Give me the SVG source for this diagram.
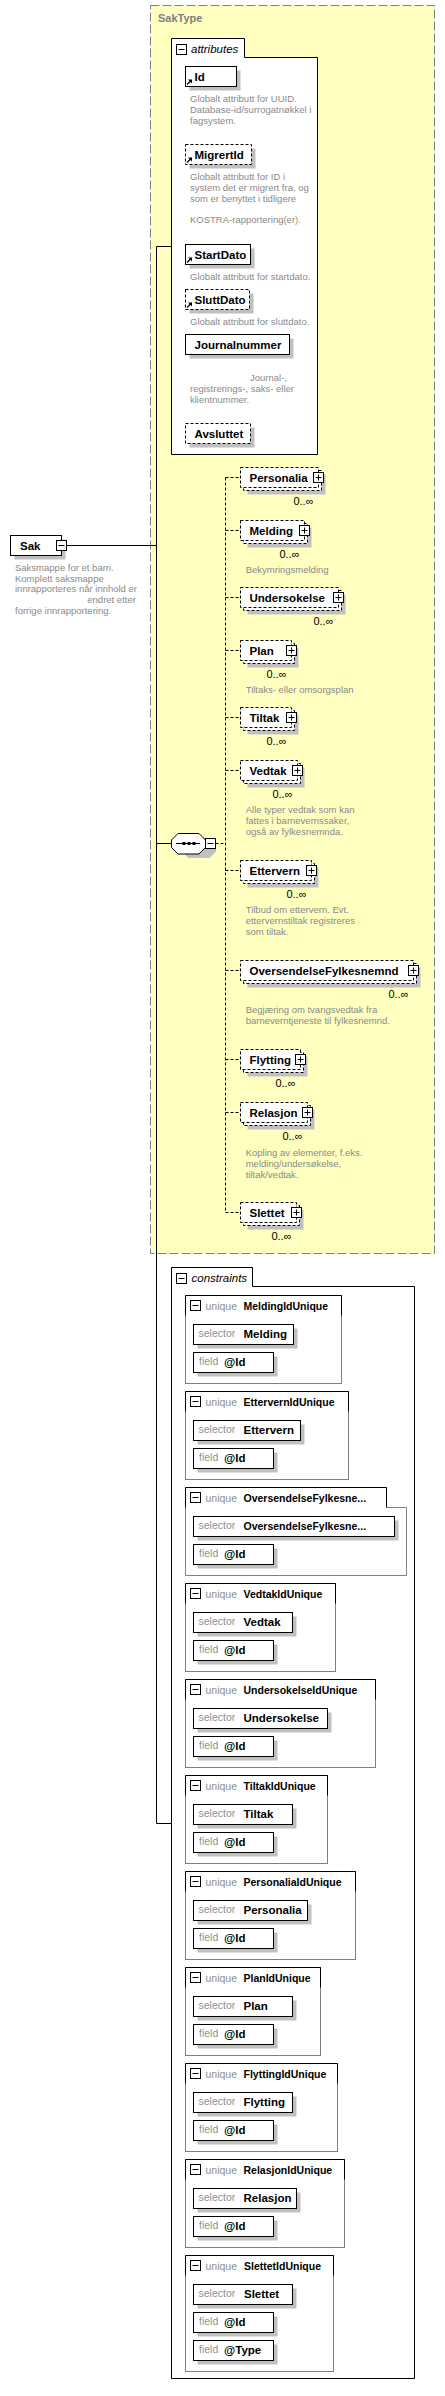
<svg xmlns="http://www.w3.org/2000/svg" xmlns:xlink="http://www.w3.org/1999/xlink" width="445" height="2396" viewBox="0 0 445 2396">
<style>
.bx{fill:#fff;stroke:#000;stroke-width:1}
.dbx{fill:#fff;stroke:#000;stroke-width:1;stroke-dasharray:3,2}
.sh{fill:#c0c0c0;stroke:none}
.nm{font-family:"Liberation Sans",Arial,sans-serif;font-weight:bold;font-size:11.5px;fill:#000}
.ds{font-family:"Liberation Sans",Arial,sans-serif;font-size:9.5px;fill:#8a8a8a}
.oc{font-family:"Liberation Sans",Arial,sans-serif;font-size:11px;fill:#000}
.gl{font-family:"Liberation Sans",Arial,sans-serif;font-size:10.5px;fill:#909090}
.un{font-family:"Liberation Sans",Arial,sans-serif;font-weight:bold;font-size:10.5px;fill:#000}
.it{font-family:"Liberation Sans",Arial,sans-serif;font-style:italic;font-size:11.5px;fill:#000}
.ln{fill:none;stroke:#000;stroke-width:1}
.dl{fill:none;stroke:#000;stroke-width:1;stroke-dasharray:3,2}
.ub{fill:#fff;stroke:#808080;stroke-width:1}
</style>
<defs>
<g id="plusIcon"><rect x="0" y="0" width="10" height="10" fill="#fff" stroke="#000"/><path d="M2,5H8M5,2V8" stroke="#000" fill="none"/></g>
<g id="minusIcon"><rect x="0" y="0" width="10" height="10" fill="#fff" stroke="#000"/><path d="M2,5H8" stroke="#000" fill="none"/></g>
<g id="refIcon"><path d="M0.5,5.5L4,2" stroke="#000" stroke-width="1.3" fill="none"/><polygon points="5.5,0.5 5.5,4.5 1.5,0.5" fill="#000"/></g>
</defs>

<g id="SakType">
<rect x="150.5" y="5.5" width="284" height="1248" fill="#ffffc0" stroke="#808080" stroke-dasharray="9,3"/>
<text x="158" y="22" font-family="Liberation Sans, Arial, sans-serif" font-weight="bold" font-size="11px" fill="#808080">SakType</text>
</g>

<g id="connectors">
<path class="ln" d="M66.5,545.5H156.5M171.5,246.5H156.5V1823.5H171.5M156.5,843.5H171.5"/>
<path class="dl" d="M215.5,843.5H225.5M225.5,477.5V1212.5"/>
<path class="dl" d="M225.5,477.5H240.5M225.5,530.5H240.5M225.5,597.5H240.5M225.5,650.5H240.5M225.5,717.5H240.5M225.5,770.5H240.5M225.5,870.5H240.5M225.5,970.5H240.5M225.5,1059.5H240.5M225.5,1112.5H240.5M225.5,1212.5H240.5"/>
</g>

<g id="attributes">
<path class="bx" d="M171.5,38.5H244.5V57.5H317.5V454.5H171.5Z"/>
<use xlink:href="#minusIcon" x="176.5" y="44.5"/>
<text class="it" x="191" y="52.5">attributes</text>
</g>

<g id="attr-Id">
<rect class="sh" x="189.5" y="70.5" width="51" height="20"/>
<rect class="bx" x="185.5" y="66.5" width="51" height="20"/>
<use xlink:href="#refIcon" x="186.5" y="79"/>
<text class="nm" x="194.5" y="80.5">Id</text>
<text class="ds" x="190" y="102">Globalt attributt for UUID.</text>
<text class="ds" x="190" y="112.8">Database-id/surrogatnøkkel i</text>
<text class="ds" x="190" y="123.6">fagsystem.</text>
</g>

<g id="attr-MigrertId">
<rect class="sh" x="189.5" y="148.5" width="66" height="20"/>
<rect class="dbx" x="185.5" y="144.5" width="66" height="20"/>
<use xlink:href="#refIcon" x="186.5" y="157"/>
<text class="nm" x="194.5" y="158.5">MigrertId</text>
<text class="ds" x="190" y="180">Globalt attributt for ID i</text>
<text class="ds" x="190" y="190.8">system det er migrert fra, og</text>
<text class="ds" x="190" y="201.6">som er benyttet i tidligere</text>
<text class="ds" x="190" y="223.2">KOSTRA-rapportering(er).</text>
</g>

<g id="attr-StartDato">
<rect class="sh" x="189.5" y="248.5" width="65" height="20"/>
<rect class="bx" x="185.5" y="244.5" width="65" height="20"/>
<use xlink:href="#refIcon" x="186.5" y="257"/>
<text class="nm" x="194.5" y="258.5">StartDato</text>
<text class="ds" x="190" y="280">Globalt attributt for startdato.</text>
</g>

<g id="attr-SluttDato">
<rect class="sh" x="189.5" y="293.5" width="64" height="20"/>
<rect class="dbx" x="185.5" y="289.5" width="64" height="20"/>
<use xlink:href="#refIcon" x="186.5" y="302"/>
<text class="nm" x="194.5" y="303.5">SluttDato</text>
<text class="ds" x="190" y="325">Globalt attributt for sluttdato.</text>
</g>

<g id="attr-Journalnummer">
<rect class="sh" x="189.5" y="338.5" width="104" height="20"/>
<rect class="bx" x="185.5" y="334.5" width="104" height="20"/>
<text class="nm" x="194.5" y="348.5">Journalnummer</text>
<text class="ds" x="250" y="380.7">Journal-,</text>
<text class="ds" x="190" y="391.6">registrerings-, saks- eller</text>
<text class="ds" x="190" y="402.5">klientnummer.</text>
</g>

<g id="attr-Avsluttet">
<rect class="sh" x="189.5" y="427.5" width="65" height="20"/>
<rect class="dbx" x="185.5" y="423.5" width="65" height="20"/>
<text class="nm" x="194.5" y="437.5">Avsluttet</text>
</g>

<g id="Sak">
<rect class="sh" x="14.5" y="539.5" width="51" height="20"/>
<rect class="bx" x="10.5" y="535.5" width="51" height="20"/>
<text class="nm" x="20" y="549.5">Sak</text>
<use xlink:href="#minusIcon" x="56.5" y="540.5"/>
<text class="ds" x="15" y="570.7">Saksmappe for et barn.</text>
<text class="ds" x="15" y="581.5">Komplett saksmappe</text>
<text class="ds" x="15" y="592.3">innrapporteres når innhold er</text>
<text class="ds" x="87.3" y="603.1">endret etter</text>
<text class="ds" x="15" y="613.9">forrige innrapportering.</text>
</g>

<g id="sequence">
<polygon class="sh" points="182,844.5 188.5,838 209.5,838 216,844.5 216,851.5 209.5,858 188.5,858 182,851.5"/>
<polygon class="bx" points="171.5,840 178,833.5 199,833.5 205.5,840 205.5,847.5 199,854 178,854 171.5,847.5"/>
<path d="M176,843.5H200" stroke="#000" fill="none"/>
<rect x="182.5" y="842" width="3" height="3" fill="#000"/>
<rect x="187.5" y="842" width="3" height="3" fill="#000"/>
<rect x="192.5" y="842" width="3" height="3" fill="#000"/>
<use xlink:href="#minusIcon" x="205.5" y="838.5"/>
</g>

<g id="el-Personalia">
<rect class="sh" x="247.5" y="474.5" width="78" height="20"/>
<rect class="dbx" x="243.5" y="470.5" width="78" height="20"/>
<rect class="dbx" x="240.5" y="467.5" width="78" height="20"/>
<text class="nm" x="249.5" y="481.5">Personalia</text>
<use xlink:href="#plusIcon" x="313.5" y="472.5"/>
<text class="oc" x="313.5" y="504.5" text-anchor="end">0..∞</text>
</g>

<g id="el-Melding">
<rect class="sh" x="247.5" y="527.5" width="64" height="20"/>
<rect class="dbx" x="243.5" y="523.5" width="64" height="20"/>
<rect class="dbx" x="240.5" y="520.5" width="64" height="20"/>
<text class="nm" x="249.5" y="534.5">Melding</text>
<use xlink:href="#plusIcon" x="299.5" y="525.5"/>
<text class="oc" x="299.5" y="557.5" text-anchor="end">0..∞</text>
<text class="ds" x="245.7" y="573">Bekymringsmelding</text>
</g>

<g id="el-Undersokelse">
<rect class="sh" x="247.5" y="594.5" width="98" height="20"/>
<rect class="dbx" x="243.5" y="590.5" width="98" height="20"/>
<rect class="dbx" x="240.5" y="587.5" width="98" height="20"/>
<text class="nm" x="249.5" y="601.5">Undersokelse</text>
<use xlink:href="#plusIcon" x="333.5" y="592.5"/>
<text class="oc" x="333.5" y="624.5" text-anchor="end">0..∞</text>
</g>

<g id="el-Plan">
<rect class="sh" x="247.5" y="647.5" width="51" height="20"/>
<rect class="dbx" x="243.5" y="643.5" width="51" height="20"/>
<rect class="dbx" x="240.5" y="640.5" width="51" height="20"/>
<text class="nm" x="249.5" y="654.5">Plan</text>
<use xlink:href="#plusIcon" x="286.5" y="645.5"/>
<text class="oc" x="286.5" y="677.5" text-anchor="end">0..∞</text>
<text class="ds" x="245.7" y="693">Tiltaks- eller omsorgsplan</text>
</g>

<g id="el-Tiltak">
<rect class="sh" x="247.5" y="714.5" width="51" height="20"/>
<rect class="dbx" x="243.5" y="710.5" width="51" height="20"/>
<rect class="dbx" x="240.5" y="707.5" width="51" height="20"/>
<text class="nm" x="249.5" y="721.5">Tiltak</text>
<use xlink:href="#plusIcon" x="286.5" y="712.5"/>
<text class="oc" x="286.5" y="744.5" text-anchor="end">0..∞</text>
</g>

<g id="el-Vedtak">
<rect class="sh" x="247.5" y="767.5" width="57" height="20"/>
<rect class="dbx" x="243.5" y="763.5" width="57" height="20"/>
<rect class="dbx" x="240.5" y="760.5" width="57" height="20"/>
<text class="nm" x="249.5" y="774.5">Vedtak</text>
<use xlink:href="#plusIcon" x="292.5" y="765.5"/>
<text class="oc" x="292.5" y="797.5" text-anchor="end">0..∞</text>
<text class="ds" x="245.7" y="813">Alle typer vedtak som kan</text>
<text class="ds" x="245.7" y="824">fattes i barnevernssaker,</text>
<text class="ds" x="245.7" y="835">også av fylkesnemnda.</text>
</g>

<g id="el-Ettervern">
<rect class="sh" x="247.5" y="867.5" width="71" height="20"/>
<rect class="dbx" x="243.5" y="863.5" width="71" height="20"/>
<rect class="dbx" x="240.5" y="860.5" width="71" height="20"/>
<text class="nm" x="249.5" y="874.5">Ettervern</text>
<use xlink:href="#plusIcon" x="306.5" y="865.5"/>
<text class="oc" x="306.5" y="897.5" text-anchor="end">0..∞</text>
<text class="ds" x="245.7" y="913">Tilbud om ettervern. Evt.</text>
<text class="ds" x="245.7" y="924">ettervernstiltak registreres</text>
<text class="ds" x="245.7" y="935">som tiltak.</text>
</g>

<g id="el-OversendelseFylkesnemnd">
<rect class="sh" x="247.5" y="967.5" width="173" height="20"/>
<rect class="dbx" x="243.5" y="963.5" width="173" height="20"/>
<rect class="dbx" x="240.5" y="960.5" width="173" height="20"/>
<text class="nm" x="249.5" y="974.5">OversendelseFylkesnemnd</text>
<use xlink:href="#plusIcon" x="408.5" y="965.5"/>
<text class="oc" x="408.5" y="997.5" text-anchor="end">0..∞</text>
<text class="ds" x="245.7" y="1013">Begjæring om tvangsvedtak fra</text>
<text class="ds" x="245.7" y="1024">barneverntjeneste til fylkesnemnd.</text>
</g>

<g id="el-Flytting">
<rect class="sh" x="247.5" y="1056.5" width="60" height="20"/>
<rect class="dbx" x="243.5" y="1052.5" width="60" height="20"/>
<rect class="dbx" x="240.5" y="1049.5" width="60" height="20"/>
<text class="nm" x="249.5" y="1063.5">Flytting</text>
<use xlink:href="#plusIcon" x="295.5" y="1054.5"/>
<text class="oc" x="295.5" y="1086.5" text-anchor="end">0..∞</text>
</g>

<g id="el-Relasjon">
<rect class="sh" x="247.5" y="1109.5" width="67" height="20"/>
<rect class="dbx" x="243.5" y="1105.5" width="67" height="20"/>
<rect class="dbx" x="240.5" y="1102.5" width="67" height="20"/>
<text class="nm" x="249.5" y="1116.5">Relasjon</text>
<use xlink:href="#plusIcon" x="302.5" y="1107.5"/>
<text class="oc" x="302.5" y="1139.5" text-anchor="end">0..∞</text>
<text class="ds" x="245.7" y="1155.5">Kopling av elementer, f.eks.</text>
<text class="ds" x="245.7" y="1166.5">melding/undersøkelse,</text>
<text class="ds" x="245.7" y="1177.5">tiltak/vedtak.</text>
</g>

<g id="el-Slettet">
<rect class="sh" x="247.5" y="1209.5" width="56" height="20"/>
<rect class="dbx" x="243.5" y="1205.5" width="56" height="20"/>
<rect class="dbx" x="240.5" y="1202.5" width="56" height="20"/>
<text class="nm" x="249.5" y="1216.5">Slettet</text>
<use xlink:href="#plusIcon" x="291.5" y="1207.5"/>
<text class="oc" x="291.5" y="1239.5" text-anchor="end">0..∞</text>
</g>

<g id="constraints">
<path class="bx" d="M171.5,1267.5H252.5V1286.5H414.5V2378.5H171.5Z"/>
<use xlink:href="#minusIcon" x="176.5" y="1273.5"/>
<text class="it" x="191.5" y="1281.5">constraints</text>
</g>

<g id="u-MeldingIdUnique">
<rect class="ub" x="185.5" y="1295.5" width="156" height="88"/>
<path class="ln" d="M185.5,1315.5V1295.5H341.5V1315.5"/>
<use xlink:href="#minusIcon" x="190.5" y="1300.5"/>
<text class="gl" x="205.5" y="1309.5">unique</text><text class="un" x="243.5" y="1309.5">MeldingIdUnique</text>
<rect class="sh" x="197.5" y="1328.5" width="100" height="20"/><rect class="bx" x="193.5" y="1324.5" width="100" height="20"/>
<text class="gl" x="198.5" y="1337">selector</text><text class="nm" x="243.5" y="1338">Melding</text>
<rect class="sh" x="197.5" y="1356.5" width="80" height="20"/><rect class="bx" x="193.5" y="1352.5" width="80" height="20"/>
<text class="gl" x="199" y="1365">field</text><text class="nm" x="224" y="1366">@Id</text>
</g>

<g id="u-EttervernIdUnique">
<rect class="ub" x="185.5" y="1391.5" width="163" height="88"/>
<path class="ln" d="M185.5,1411.5V1391.5H348.5V1411.5"/>
<use xlink:href="#minusIcon" x="190.5" y="1396.5"/>
<text class="gl" x="205.5" y="1405.5">unique</text><text class="un" x="243.5" y="1405.5">EttervernIdUnique</text>
<rect class="sh" x="197.5" y="1424.5" width="107" height="20"/><rect class="bx" x="193.5" y="1420.5" width="107" height="20"/>
<text class="gl" x="198.5" y="1433">selector</text><text class="nm" x="243.5" y="1434">Ettervern</text>
<rect class="sh" x="197.5" y="1452.5" width="80" height="20"/><rect class="bx" x="193.5" y="1448.5" width="80" height="20"/>
<text class="gl" x="199" y="1461">field</text><text class="nm" x="224" y="1462">@Id</text>
</g>

<g id="u-OversendelseFylkesnemndIdUnique">
<path class="ub" d="M185.5,1487.5H386.5V1507.5H406.5V1575.5H185.5Z"/>
<path class="ln" d="M185.5,1507.5V1487.5H386.5V1507.5"/>
<use xlink:href="#minusIcon" x="190.5" y="1492.5"/>
<text class="gl" x="205.5" y="1501.5">unique</text><text class="un" x="243.5" y="1501.5">OversendelseFylkesne...</text>
<rect class="sh" x="197.5" y="1520.5" width="201" height="20"/><rect class="bx" x="193.5" y="1516.5" width="201" height="20"/>
<text class="gl" x="198.5" y="1529">selector</text><text class="un" x="243.5" y="1530">OversendelseFylkesne...</text>
<rect class="sh" x="197.5" y="1548.5" width="80" height="20"/><rect class="bx" x="193.5" y="1544.5" width="80" height="20"/>
<text class="gl" x="199" y="1557">field</text><text class="nm" x="224" y="1558">@Id</text>
</g>

<g id="u-VedtakIdUnique">
<rect class="ub" x="185.5" y="1583.5" width="150" height="88"/>
<path class="ln" d="M185.5,1603.5V1583.5H335.5V1603.5"/>
<use xlink:href="#minusIcon" x="190.5" y="1588.5"/>
<text class="gl" x="205.5" y="1597.5">unique</text><text class="un" x="243.5" y="1597.5">VedtakIdUnique</text>
<rect class="sh" x="197.5" y="1616.5" width="99" height="20"/><rect class="bx" x="193.5" y="1612.5" width="99" height="20"/>
<text class="gl" x="198.5" y="1625">selector</text><text class="nm" x="243.5" y="1626">Vedtak</text>
<rect class="sh" x="197.5" y="1644.5" width="80" height="20"/><rect class="bx" x="193.5" y="1640.5" width="80" height="20"/>
<text class="gl" x="199" y="1653">field</text><text class="nm" x="224" y="1654">@Id</text>
</g>

<g id="u-UndersokelseIdUnique">
<rect class="ub" x="185.5" y="1679.5" width="190" height="88"/>
<path class="ln" d="M185.5,1699.5V1679.5H375.5V1699.5"/>
<use xlink:href="#minusIcon" x="190.5" y="1684.5"/>
<text class="gl" x="205.5" y="1693.5">unique</text><text class="un" x="243.5" y="1693.5">UndersokelseIdUnique</text>
<rect class="sh" x="197.5" y="1712.5" width="134" height="20"/><rect class="bx" x="193.5" y="1708.5" width="134" height="20"/>
<text class="gl" x="198.5" y="1721">selector</text><text class="nm" x="243.5" y="1722">Undersokelse</text>
<rect class="sh" x="197.5" y="1740.5" width="80" height="20"/><rect class="bx" x="193.5" y="1736.5" width="80" height="20"/>
<text class="gl" x="199" y="1749">field</text><text class="nm" x="224" y="1750">@Id</text>
</g>

<g id="u-TiltakIdUnique">
<rect class="ub" x="185.5" y="1775.5" width="142" height="88"/>
<path class="ln" d="M185.5,1795.5V1775.5H327.5V1795.5"/>
<use xlink:href="#minusIcon" x="190.5" y="1780.5"/>
<text class="gl" x="205.5" y="1789.5">unique</text><text class="un" x="243.5" y="1789.5">TiltakIdUnique</text>
<rect class="sh" x="197.5" y="1808.5" width="99" height="20"/><rect class="bx" x="193.5" y="1804.5" width="99" height="20"/>
<text class="gl" x="198.5" y="1817">selector</text><text class="nm" x="243.5" y="1818">Tiltak</text>
<rect class="sh" x="197.5" y="1836.5" width="80" height="20"/><rect class="bx" x="193.5" y="1832.5" width="80" height="20"/>
<text class="gl" x="199" y="1845">field</text><text class="nm" x="224" y="1846">@Id</text>
</g>

<g id="u-PersonaliaIdUnique">
<rect class="ub" x="185.5" y="1871.5" width="170" height="88"/>
<path class="ln" d="M185.5,1891.5V1871.5H355.5V1891.5"/>
<use xlink:href="#minusIcon" x="190.5" y="1876.5"/>
<text class="gl" x="205.5" y="1885.5">unique</text><text class="un" x="243.5" y="1885.5">PersonaliaIdUnique</text>
<rect class="sh" x="197.5" y="1904.5" width="114" height="20"/><rect class="bx" x="193.5" y="1900.5" width="114" height="20"/>
<text class="gl" x="198.5" y="1913">selector</text><text class="nm" x="243.5" y="1914">Personalia</text>
<rect class="sh" x="197.5" y="1932.5" width="80" height="20"/><rect class="bx" x="193.5" y="1928.5" width="80" height="20"/>
<text class="gl" x="199" y="1941">field</text><text class="nm" x="224" y="1942">@Id</text>
</g>

<g id="u-PlanIdUnique">
<rect class="ub" x="185.5" y="1967.5" width="135" height="88"/>
<path class="ln" d="M185.5,1987.5V1967.5H320.5V1987.5"/>
<use xlink:href="#minusIcon" x="190.5" y="1972.5"/>
<text class="gl" x="205.5" y="1981.5">unique</text><text class="un" x="243.5" y="1981.5">PlanIdUnique</text>
<rect class="sh" x="197.5" y="2000.5" width="99" height="20"/><rect class="bx" x="193.5" y="1996.5" width="99" height="20"/>
<text class="gl" x="198.5" y="2009">selector</text><text class="nm" x="243.5" y="2010">Plan</text>
<rect class="sh" x="197.5" y="2028.5" width="80" height="20"/><rect class="bx" x="193.5" y="2024.5" width="80" height="20"/>
<text class="gl" x="199" y="2037">field</text><text class="nm" x="224" y="2038">@Id</text>
</g>

<g id="u-FlyttingIdUnique">
<rect class="ub" x="185.5" y="2063.5" width="152" height="88"/>
<path class="ln" d="M185.5,2083.5V2063.5H337.5V2083.5"/>
<use xlink:href="#minusIcon" x="190.5" y="2068.5"/>
<text class="gl" x="205.5" y="2077.5">unique</text><text class="un" x="243.5" y="2077.5">FlyttingIdUnique</text>
<rect class="sh" x="197.5" y="2096.5" width="99" height="20"/><rect class="bx" x="193.5" y="2092.5" width="99" height="20"/>
<text class="gl" x="198.5" y="2105">selector</text><text class="nm" x="243.5" y="2106">Flytting</text>
<rect class="sh" x="197.5" y="2124.5" width="80" height="20"/><rect class="bx" x="193.5" y="2120.5" width="80" height="20"/>
<text class="gl" x="199" y="2133">field</text><text class="nm" x="224" y="2134">@Id</text>
</g>

<g id="u-RelasjonIdUnique">
<rect class="ub" x="185.5" y="2159.5" width="159" height="88"/>
<path class="ln" d="M185.5,2179.5V2159.5H344.5V2179.5"/>
<use xlink:href="#minusIcon" x="190.5" y="2164.5"/>
<text class="gl" x="205.5" y="2173.5">unique</text><text class="un" x="243.5" y="2173.5">RelasjonIdUnique</text>
<rect class="sh" x="197.5" y="2192.5" width="103" height="20"/><rect class="bx" x="193.5" y="2188.5" width="103" height="20"/>
<text class="gl" x="198.5" y="2201">selector</text><text class="nm" x="243.5" y="2202">Relasjon</text>
<rect class="sh" x="197.5" y="2220.5" width="80" height="20"/><rect class="bx" x="193.5" y="2216.5" width="80" height="20"/>
<text class="gl" x="199" y="2229">field</text><text class="nm" x="224" y="2230">@Id</text>
</g>

<g id="u-SlettetIdUnique">
<rect class="ub" x="185.5" y="2255.5" width="148" height="116"/>
<path class="ln" d="M185.5,2275.5V2255.5H333.5V2275.5"/>
<use xlink:href="#minusIcon" x="190.5" y="2260.5"/>
<text class="gl" x="205.5" y="2269.5">unique</text><text class="un" x="244" y="2269.5">SlettetIdUnique</text>
<rect class="sh" x="197.5" y="2288.5" width="99" height="20"/><rect class="bx" x="193.5" y="2284.5" width="99" height="20"/>
<text class="gl" x="198.5" y="2297">selector</text><text class="nm" x="244" y="2298">Slettet</text>
<rect class="sh" x="197.5" y="2316.5" width="80" height="20"/><rect class="bx" x="193.5" y="2312.5" width="80" height="20"/>
<text class="gl" x="199" y="2325">field</text><text class="nm" x="224" y="2326">@Id</text>
<rect class="sh" x="197.5" y="2344.5" width="80" height="20"/><rect class="bx" x="193.5" y="2340.5" width="80" height="20"/>
<text class="gl" x="199" y="2353">field</text><text class="nm" x="224" y="2354">@Type</text>
</g>
</svg>
